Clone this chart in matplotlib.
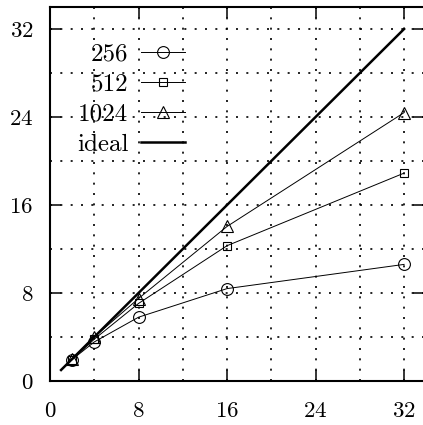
import matplotlib
matplotlib.use("Agg")
import matplotlib.pyplot as plt
from matplotlib.ticker import MultipleLocator

plt.rcParams['font.family'] = ['cmr10', 'DejaVu Serif']
plt.rcParams['axes.formatter.use_mathtext'] = True

procs = [2, 4, 8, 16, 32]
s256 = [1.95, 3.55, 5.8, 8.4, 10.6]
s512 = [1.95, 3.8, 7.05, 12.3, 18.9]
s1024 = [2.0, 4.0, 7.5, 14.05, 24.4]
ideal_x = [1, 32]
ideal_y = [1, 32]
ticks = [0, 8, 16, 24, 32]

fig = plt.figure(figsize=(4.23, 4.25), dpi=100)
ax = fig.add_axes([50/423, 1-381/425, 374/423, (381-7)/425])

ax.plot(procs, s256, color='black', lw=0.7, marker='o', ms=8.5, mfc='none', mec='black', mew=0.8, label='256')
ax.plot(procs, s512, color='black', lw=0.7, marker='s', ms=6, mfc='none', mec='black', mew=0.8, label='512')
ax.plot(procs, s1024, color='black', lw=0.7, marker='^', ms=9, mfc='none', mec='black', mew=0.8, label='1024')
ax.plot(ideal_x, ideal_y, color='black', lw=1.8, label='ideal')

ax.set_xlim(0, 33.8)
ax.set_ylim(0, 34)
ax.set_xticks(ticks)
ax.set_yticks(ticks)
ax.xaxis.set_minor_locator(MultipleLocator(4))
ax.yaxis.set_minor_locator(MultipleLocator(4))
ax.tick_params(which='major', direction='in', length=8, width=1.1, top=True, right=True,
               labelsize=16.5, pad=12)
ax.tick_params(axis='x', which='major', pad=15)
ax.tick_params(which='minor', length=0, top=True, right=True)
ax.grid(True, which='both', color='black', linestyle=(0, (1.2, 5)), lw=1.2)
for sp in ax.spines.values():
    sp.set_linewidth(1.5)

leg = ax.legend(loc='upper right', bbox_to_anchor=(0.36, 0.903), frameon=False, markerfirst=False,
                fontsize=18, handlelength=1.75, handletextpad=0.5, labelspacing=0.3,
                borderaxespad=0, borderpad=0)

fig.savefig("out.png", dpi=100)
